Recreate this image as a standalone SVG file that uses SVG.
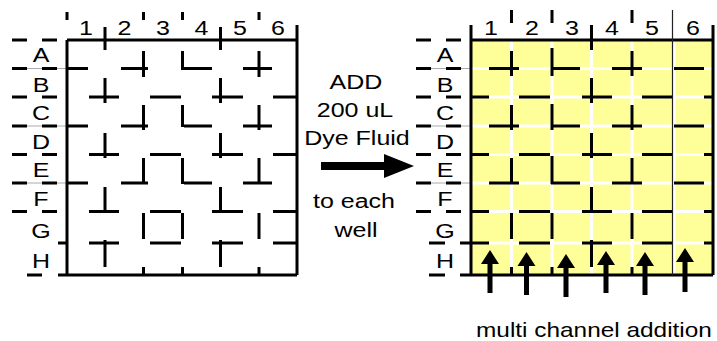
<svg xmlns="http://www.w3.org/2000/svg" width="717" height="341" viewBox="0 0 717 341">
<style>
  .t { font-family: "Liberation Sans", Arial, sans-serif; font-size: 20px; fill: #000; text-anchor: middle; }
  .ts { font-family: "Liberation Sans", Arial, sans-serif; font-size: 20px; fill: #000; text-anchor: start; }
  .blk { stroke: #000; stroke-width: 3; fill: none; }
  .brd { stroke: #000; stroke-width: 3; fill: none; }
  .gry { stroke: #aaa; stroke-width: 1; fill: none; }
  .wht { stroke: #fff; stroke-width: 3; fill: none; }
  .thin { stroke: #222; stroke-width: 1.2; fill: none; }
</style>

<g id="plate-before">
  <path class="gry" d="M12 68.5 H67 M12 126 H67 M12 183 H67"/>
  <path class="blk" d="M12 40 H27 M42 40 H57 M12 68.5 H27 M42 68.5 H57 M12 97 H27 M42 97 H57 M12 126 H27 M42 126 H57 M12 154.5 H27 M42 154.5 H57 M12 183 H27 M42 183 H57 M12 211.5 H27 M42 211.5 H57 M58 243 H67 M27 275 H42"/>
  <path class="brd" d="M67 40 V275 M67 12 V20 M297 25 V275 M67 40 H297 M58 275 H297"/>
  <path class="blk" d="M67 68.5 H88 M121 68.5 H148 M184 68.5 H212 M243 68.5 H272
    M67 126 H88 M121 126 H148 M184 126 H212 M243 126 H272
    M67 183 H88 M121 183 H148 M184 183 H212 M243 183 H272
    M89 97 H119 M150 97 H181 M212 97 H243 M273 97 H297
    M89 154.5 H119 M150 154.5 H181 M212 154.5 H243 M273 154.5 H297
    M89 211.5 H119 M150 211.5 H181 M212 211.5 H243 M273 211.5 H297
    M89 243 H119 M150 243 H181 M212 243 H243 M273 243 H297"/>
  <path class="blk" d="M105 27 V50 M105 78 V103 M105 133 V158 M105 187 V211 M105 240 V267
    M220.5 27 V50 M220.5 78 V103 M220.5 133 V158 M220.5 187 V211 M220.5 240 V267
    M143.5 12 V20 M143.5 51 V77 M143.5 105 V130 M143.5 158 V184 M143.5 213 V239 M143.5 267 V275
    M259 12 V20 M259 51 V77 M259 105 V130 M259 158 V184 M259 213 V239 M259 267 V275
    M182.5 12 V20 M182.5 51 V70 M182.5 105 V127 M182.5 158 V184 M182.5 213 V239 M182.5 267 V275"/>
  <text class="t" transform="translate(86,35) scale(1.25,1)">1</text>
  <text class="t" transform="translate(124.5,35) scale(1.25,1)">2</text>
  <text class="t" transform="translate(163,35) scale(1.25,1)">3</text>
  <text class="t" transform="translate(201.5,35) scale(1.25,1)">4</text>
  <text class="t" transform="translate(240,35) scale(1.25,1)">5</text>
  <text class="t" transform="translate(278,35) scale(1.25,1)">6</text>
  <text class="t" transform="translate(41,62) scale(1.25,1)">A</text>
  <text class="t" transform="translate(41,91.5) scale(1.25,1)">B</text>
  <text class="t" transform="translate(41,120) scale(1.25,1)">C</text>
  <text class="t" transform="translate(41,148.5) scale(1.25,1)">D</text>
  <text class="t" transform="translate(41,177) scale(1.25,1)">E</text>
  <text class="t" transform="translate(41,206) scale(1.25,1)">F</text>
  <text class="t" transform="translate(41,237.5) scale(1.25,1)">G</text>
  <text class="t" transform="translate(41,268) scale(1.25,1)">H</text>
</g>

<g id="instruction">
  <text class="t" transform="translate(356,89) scale(1.25,1)">ADD</text>
  <text class="t" transform="translate(355,117) scale(1.25,1)">200 uL</text>
  <text class="t" transform="translate(357,145) scale(1.25,1)">Dye Fluid</text>
  <text class="t" transform="translate(354,208) scale(1.25,1)">to each</text>
  <text class="t" transform="translate(356,237) scale(1.25,1)">well</text>
  <path d="M321 162 H384 V154 L414 166 L384 178 V170 H321 Z" fill="#000"/>
</g>

<g id="plate-after">
  <rect x="471" y="40" width="242" height="235" fill="#ffff99"/>
  <path class="wht" d="M511.5 40 V275 M552 40 V275 M591.5 40 V275 M632 40 V275 M674 40 V275
    M471 68.5 H713 M471 97 H713 M471 126 H713 M471 154.5 H713 M471 183 H713 M471 211.5 H713 M471 243 H713"/>
  <path class="gry" d="M416 68.5 H471 M416 126 H471 M416 183 H471"/>
  <path class="blk" d="M416 40 H431 M446 40 H461 M416 68.5 H431 M446 68.5 H461 M416 97 H431 M446 97 H461 M416 126 H431 M446 126 H461 M416 154.5 H431 M446 154.5 H461 M416 183 H431 M446 183 H461 M416 211.5 H431 M446 211.5 H461 M429 243 H445 M460 243 H471 M429 275 H445"/>
  <path class="brd" d="M471 25 V275 M713 25 V275 M471 40 H713 M460 275 H713"/>
  <path class="thin" d="M672.5 10 V275"/>
  <path class="blk" d="M489 68.5 H519 M551 68.5 H580 M612 68.5 H642 M674 68.5 H704
    M489 126 H519 M551 126 H580 M612 126 H642 M674 126 H704
    M489 183 H519 M551 183 H580 M612 183 H642 M674 183 H704
    M471 97 H489 M519 97 H550 M582 97 H612 M642 97 H672 M704 97 H713
    M471 154.5 H489 M519 154.5 H550 M582 154.5 H612 M642 154.5 H672 M704 154.5 H713
    M471 211.5 H489 M519 211.5 H550 M582 211.5 H612 M642 211.5 H672 M704 211.5 H713
    M471 243 H489 M519 243 H550 M582 243 H612 M642 243 H672 M704 243 H713"/>
  <path class="blk" d="M511.5 10 V23 M511.5 51 V76 M511.5 105 V130 M511.5 158 V184 M511.5 213 V239 M511.5 267 V275
    M552 10 V23 M552 48 V76 M552 104 V130 M552 156 V184 M552 213 V239 M552 267 V275
    M632 10 V23 M632 51 V76 M632 105 V130 M632 158 V184 M632 213 V239 M632 267 V275
    M591.5 25 V50 M591.5 78 V103 M591.5 133 V158 M591.5 187 V211 M591.5 240 V267"/>
  <text class="t" transform="translate(491,35) scale(1.25,1)">1</text>
  <text class="t" transform="translate(532,35) scale(1.25,1)">2</text>
  <text class="t" transform="translate(572,35) scale(1.25,1)">3</text>
  <text class="t" transform="translate(612,35) scale(1.25,1)">4</text>
  <text class="t" transform="translate(652,35) scale(1.25,1)">5</text>
  <text class="t" transform="translate(693,35) scale(1.25,1)">6</text>
  <text class="t" transform="translate(445,62) scale(1.25,1)">A</text>
  <text class="t" transform="translate(445,91.5) scale(1.25,1)">B</text>
  <text class="t" transform="translate(445,120) scale(1.25,1)">C</text>
  <text class="t" transform="translate(445,148.5) scale(1.25,1)">D</text>
  <text class="t" transform="translate(445,177) scale(1.25,1)">E</text>
  <text class="t" transform="translate(445,206) scale(1.25,1)">F</text>
  <text class="t" transform="translate(445,237.5) scale(1.25,1)">G</text>
  <text class="t" transform="translate(445,268) scale(1.25,1)">H</text>
</g>

<g id="channel-arrows" fill="#000">
  <path d="M487.5 293 V264 H481 L490 250 L499 264 H492.5 V293 Z"/>
  <path d="M524 295 V266 H517.5 L526.5 252 L535.5 266 H529 V295 Z"/>
  <path d="M563.5 297 V268 H557 L566 254 L575 268 H568.5 V297 Z"/>
  <path d="M603.5 293 V265 H597 L606 251 L615 265 H608.5 V293 Z"/>
  <path d="M642.5 295 V266 H636 L645 252 L654 266 H647.5 V295 Z"/>
  <path d="M682.5 292 V262 H676 L685 248 L694 262 H687.5 V292 Z"/>
</g>

<g id="caption">
  <text class="ts" transform="translate(476,337) scale(1.22,1)">multi channel addition</text>
</g>
</svg>
